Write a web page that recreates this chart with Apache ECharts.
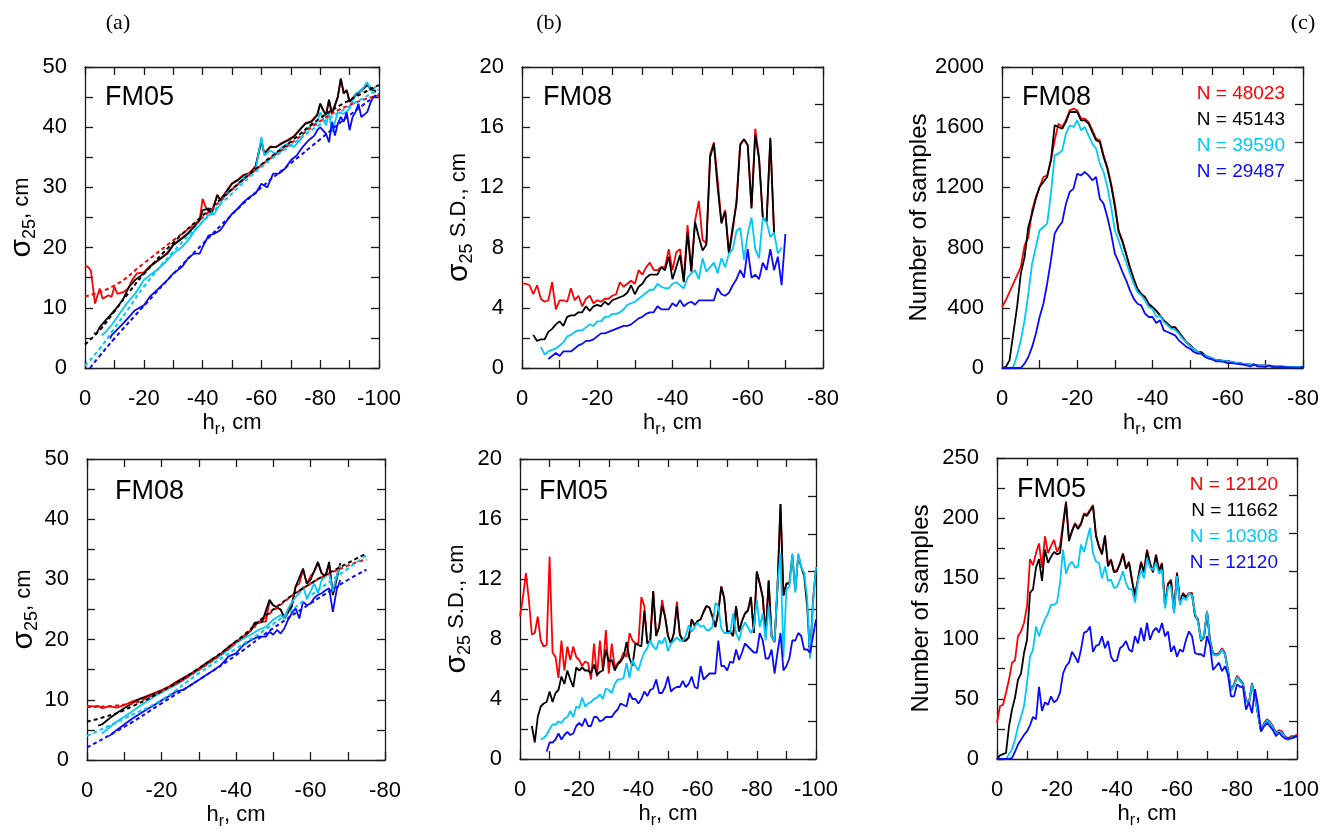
<!DOCTYPE html>
<html>
<head>
<meta charset="utf-8">
<title>sigma25 vs hr</title>
<script src="https://cdn.jsdelivr.net/npm/echarts@6/dist/echarts.min.js"></script>
<style>
html, body { margin: 0; padding: 0; background: #fff; }
#chart { width: 1339px; height: 835px; }
</style>
</head>
<body>
<div id="chart"></div>
<script>
// colours of the four sample subsets
var RED = '#ff0000', BLACK = '#000000', CYAN = '#00c8ff', BLUE = '#0a0aff';
var FONT = 'Liberation Sans';

// (a) top, FM05: [h_r, sigma25]
var aTopRed = [[0,17.0],[-1,16.8],[-2,16.2],[-3.4,10.7],[-5,13.2],[-6,11.5],[-8,12.1],[-9,11.8],[-10,13.5],[-11,12.3],[-13,12.6],[-14.7,13.2],[-16,14.6],[-17.6,15.7],[-20,15.9],[-22,16.9],[-25,18.0],[-28,19.1],[-30,20.5],[-33,21.6],[-35,22.4],[-37,23.5],[-39,24.6],[-40,28.1],[-41,26.8],[-42,26.0],[-43,25.6],[-45,28.8],[-46,27.9],[-48,29.3],[-50,30.7],[-52,31.3],[-54,32.1],[-56,32.4],[-58,33.5],[-59,35.6],[-60,37.6],[-61,35.6],[-63,36.8],[-65,36.7],[-67,37.4],[-69,37.9],[-71,38.5],[-73,39.6],[-75,40.7],[-77,41.0],[-79,42.1],[-80,43.9],[-81,42.9],[-82,42.1],[-83,44.6],[-84,42.3],[-86,45.1],[-87,48.0],[-88,45.7],[-89,46.2],[-90,44.3],[-92,45.4],[-94,46.2],[-96,47.0],[-98,46.2],[-99,46.0]];
var aTopBlack = [[-3,5.7],[-4,5.8],[-5,6.8],[-7,7.9],[-9,9.0],[-11,10.1],[-13,11.5],[-15,13.5],[-17,14.6],[-20,15.7],[-22,16.8],[-25,17.9],[-28,19.0],[-30,20.4],[-33,21.5],[-35,22.3],[-37,23.4],[-39,24.5],[-40,26.2],[-42,26.5],[-43,25.6],[-45,28.7],[-46,27.9],[-48,29.2],[-50,30.6],[-52,31.2],[-54,32.0],[-56,32.3],[-58,33.4],[-59,35.6],[-60,37.8],[-61,35.6],[-63,36.7],[-65,36.7],[-67,37.3],[-69,37.8],[-71,38.4],[-73,39.5],[-75,40.6],[-77,40.9],[-79,42.0],[-80,43.9],[-81,42.8],[-82,42.0],[-83,44.5],[-84,42.2],[-86,45.0],[-87,48.1],[-88,45.6],[-89,46.1],[-90,44.2],[-92,45.3],[-94,46.1],[-96,47.0],[-98,46.1],[-99,45.9]];
var aTopCyan = [[-5.7,5.4],[-7,6.0],[-9,7.1],[-11,8.5],[-13,9.9],[-15,11.2],[-17,12.3],[-20,14.6],[-22,15.4],[-25,16.5],[-28,17.9],[-30,19.0],[-33,20.1],[-35,21.2],[-37,22.6],[-40,24.3],[-42,25.4],[-44,25.6],[-46,27.3],[-48,29.0],[-50,29.8],[-52,30.6],[-54,31.7],[-56,32.3],[-58,32.8],[-59,35.6],[-60,38.4],[-61,35.3],[-63,36.1],[-65,35.6],[-67,36.7],[-69,37.3],[-71,36.7],[-73,37.8],[-75,39.5],[-77,40.3],[-79,40.9],[-80,42.5],[-82,40.3],[-83,42.5],[-84,39.2],[-86,42.5],[-88,42.2],[-90,43.1],[-92,45.6],[-94,46.1],[-96,47.5],[-97,46.1],[-99,46.7]];
var aTopBlue = [[-8.5,4.9],[-9,5.4],[-11,6.4],[-13,7.4],[-15,8.5],[-17,9.6],[-20,10.4],[-22,11.8],[-25,13.2],[-28,14.6],[-30,15.7],[-33,16.8],[-35,18.2],[-37,19.0],[-39,19.0],[-40,20.1],[-42,22.0],[-44,22.3],[-46,22.9],[-48,24.3],[-50,25.6],[-52,26.5],[-54,27.6],[-56,28.4],[-58,29.0],[-60,30.6],[-62,30.0],[-64,32.3],[-66,32.3],[-68,33.1],[-70,34.5],[-72,35.3],[-74,36.7],[-76,37.8],[-78,38.6],[-79,39.5],[-80,40.0],[-82,38.9],[-83,37.5],[-84,40.9],[-85,38.6],[-86,40.6],[-87,41.7],[-88,40.9],[-89,42.5],[-90,39.5],[-91,41.7],[-92,42.5],[-93,43.9],[-94,41.7],[-96,42.5],[-97,43.9],[-98,45.0],[-99,45.3]];
var aTopRedFit = [[0,11.9],[-10,13.7],[-20,17.4],[-30,21.2],[-40,25.0],[-50,29.6],[-60,33.7],[-70,37.3],[-80,41.0],[-90,43.7],[-100,45.3]];
var aTopBlackFit = [[0,3.9],[-5,6.3],[-10,9.4],[-15,12.6],[-20,15.6],[-30,20.8],[-40,25.3],[-50,29.7],[-60,33.8],[-70,37.6],[-80,41.5],[-90,44.5],[-100,47.0]];
var aTopCyanFit = [[0,0.4],[-5,3.2],[-10,6.6],[-15,10.0],[-20,13.5],[-30,19.3],[-40,24.3],[-50,29.0],[-60,33.4],[-70,37.0],[-80,40.5],[-90,43.5],[-100,46.3]];
var aTopBlueFit = [[-1.7,0],[-5,2.0],[-10,4.9],[-20,10.3],[-30,15.6],[-40,20.6],[-50,25.5],[-60,30.0],[-70,34.0],[-80,38.0],[-90,42.0],[-100,45.6]];

// (a) bottom, FM08: [h_r, sigma25]
var aBotRed = [[0,9.0],[-2,8.9],[-3,9.0],[-4,8.6],[-6,8.9],[-8,8.7],[-10,9.1],[-12,9.7],[-14,10.1],[-16,10.6],[-18,11.1],[-20,11.6],[-22,12.2],[-24,13.0],[-26,13.7],[-28,14.4],[-30,15.2],[-32,16.1],[-34,16.9],[-36,17.7],[-38,18.8],[-40,19.7],[-42,20.5],[-44,21.6],[-46,23.0],[-48,23.0],[-49,26.3],[-50,25.7],[-52,24.9],[-53,23.8],[-54,24.9],[-55,26.0],[-56,28.8],[-57,29.3],[-58,31.6],[-59,29.3],[-60,30.5],[-61,31.3],[-62,32.7],[-63,31.0],[-64,30.5],[-65,32.4],[-66,27.7],[-67,30.5],[-68,32.7]];
var aBotBlack = [[-3,5.7],[-4,5.9],[-6,6.9],[-8,7.8],[-10,8.6],[-12,9.4],[-14,10.1],[-16,10.5],[-18,11.0],[-20,11.5],[-22,12.1],[-24,12.9],[-26,13.6],[-28,14.3],[-30,15.1],[-32,16.0],[-34,16.8],[-36,17.6],[-38,18.7],[-40,19.6],[-42,20.4],[-44,21.5],[-45,22.8],[-47,22.9],[-49,26.6],[-50,25.7],[-52,25.0],[-53,23.5],[-55,25.5],[-56,28.8],[-58,31.8],[-59,29.3],[-60,29.9],[-62,32.9],[-63,31.0],[-64,30.5],[-65,32.9],[-66,27.4],[-67,29.9],[-68,32.7]];
var aBotCyan = [[-4,4.4],[-6,5.4],[-8,6.4],[-10,7.2],[-12,8.0],[-14,8.9],[-16,9.7],[-18,10.5],[-20,11.2],[-22,11.9],[-24,12.5],[-26,13.3],[-28,14.1],[-30,14.9],[-32,15.8],[-34,16.6],[-36,17.4],[-38,18.3],[-40,19.4],[-42,20.2],[-44,20.8],[-46,21.6],[-48,22.1],[-50,23.3],[-52,24.1],[-53,23.5],[-54,25.2],[-56,27.1],[-57,27.7],[-58,28.8],[-59,26.9],[-60,28.0],[-61,29.3],[-62,27.7],[-63,29.9],[-64,30.5],[-65,31.0],[-66,28.0],[-67,30.5],[-68,32.4]];
var aBotBlue = [[-6,4.0],[-8,5.0],[-10,5.9],[-12,6.8],[-14,7.6],[-16,8.4],[-18,9.1],[-20,9.9],[-22,10.6],[-24,11.4],[-26,11.7],[-28,12.5],[-30,13.3],[-32,14.1],[-34,14.9],[-36,15.8],[-38,17.2],[-40,17.7],[-42,19.1],[-44,19.9],[-46,20.5],[-48,20.5],[-49,21.3],[-50,20.8],[-51,21.6],[-52,21.0],[-53,21.9],[-54,23.3],[-55,24.4],[-56,25.2],[-57,23.5],[-58,26.3],[-59,25.7],[-60,26.0],[-61,26.9],[-62,27.4],[-63,27.7],[-64,28.2],[-65,28.5],[-66,24.6],[-67,28.2],[-68,29.9]];
var aBotRedFit = [[0,8.8],[-10,9.2],[-20,11.5],[-30,15.0],[-40,19.5],[-50,24.8],[-60,29.3],[-70,32.3],[-75,33.3]];
var aBotBlackFit = [[0,6.4],[-5,7.2],[-10,8.3],[-20,11.4],[-30,15.2],[-40,19.7],[-50,25.0],[-60,29.3],[-70,32.7],[-75,34.3]];
var aBotCyanFit = [[0,4.0],[-10,6.9],[-20,10.0],[-30,14.4],[-40,18.5],[-50,22.6],[-60,27.3],[-70,31.8],[-75,34.0]];
var aBotBlueFit = [[0,2.1],[-10,5.5],[-20,9.4],[-30,13.3],[-40,17.4],[-50,21.9],[-60,26.0],[-70,29.9],[-75,31.6]];

// (b) top, FM08: sigma25 S.D. at 1 cm steps, first value at the given h_r
var bTopRedStart = 0;
var bTopRed = [5.6,5.6,5.5,4.9,5.5,4.6,4.4,4.5,5.7,3.9, 4.5,4.5,4.4,5.3,4.5,4.8,4.1,4.6,4.8,4.3, 4.5,4.4,4.6,4.6,4.8,4.9,5.7,5.4,5.6,5.8, 5.6,6.5,6.2,6.7,7.0,6.5,6.5,6.7,6.7,7.9, 6.5,7.7,7.9,5.8,9.5,6.5,9.8,11.1,8.5,8.3, 14.2,15.0,12.5,9.7,10.5,7.6,9.1,11.1,14.9,15.2, 14.8,10.7,15.9,14.0,10.0,9.7,15.2,9.0];
var bTopBlackStart = -3;
var bTopBlack = [2.2,1.8,1.9,1.9,2.4,2.6,2.9,3.1,2.8,3.4, 3.5,3.5,3.7,3.7,4.1,3.8,4.1,4.2,4.1,4.4, 4.2,4.5,4.6,4.7,4.8,5.0,5.5,4.9,5.4,5.6, 6.0,6.2,6.2,6.2,6.7,6.5,7.4,5.9,6.7,7.5, 5.7,9.0,6.4,9.7,8.7,7.8,8.2,14.0,14.9,12.0, 9.6,10.4,7.6,9.4,10.9,14.8,15.2,14.8,10.6,15.5, 13.9,10.0,9.7,15.3,8.9];
var bTopCyanStart = -5;
var bTopCyan = [1.4,0.9,1.1,1.2,1.3,1.5,1.7,2.1,2.2,2.4, 2.5,2.5,2.7,2.9,2.8,3.1,3.1,3.4,3.4,3.6, 3.6,3.7,3.9,4.2,4.3,4.4,4.6,4.8,5.0,5.2, 5.2,5.6,5.4,5.3,5.3,5.6,5.7,5.5,5.3,6.0, 6.3,6.5,5.9,7.3,6.4,6.7,7.0,6.3,7.3,6.7, 7.6,7.9,9.1,9.3,7.2,8.9,10.0,7.9,7.3,10.0, 9.7,8.7,9.0,7.6,8.0];
var bTopBlueStart = -7;
var bTopBlue = [0.6,0.8,1.0,0.8,1.1,1.1,1.1,1.3,1.5,1.6, 1.8,1.8,1.9,2.1,2.3,2.3,2.4,2.5,2.6,2.7, 2.8,2.8,2.9,3.1,3.3,3.4,3.6,3.7,3.7,4.1, 3.9,3.9,3.9,4.3,4.1,4.5,4.1,4.3,4.4,4.2, 4.5,4.5,4.5,4.5,4.5,5.3,4.9,4.8,5.0,5.5, 5.9,6.5,6.0,7.9,6.0,6.2,5.9,7.0,6.5,7.9, 6.5,7.4,5.5,8.9];

// (b) bottom, FM05: sigma25 S.D.
var bBotRedStart = 0;
var bBotRed = [9.5,10.8,12.4,10.6,8.3,8.4,9.5,7.9,7.5,7.6, 13.5,7.1,6.8,5.4,7.9,5.9,7.5,6.6,7.5,6.8, 6.6,6.2,6.5,6.4,5.3,7.7,5.5,7.9,5.9,8.6, 5.7,7.7,6.1,6.4,6.6,7.1,6.8,8.4,7.9,7.7, 7.7,10.8,10.2,7.7,7.9,11.2,8.2,8.8,10.6,9.5, 8.2,7.7,8.4,10.5,8.3,7.9,7.9,8.1,9.3,8.9, 9.2,9.3,9.8,10.2,10.1,9.5,8.8,9.8,11.5,10.7, 8.5,8.5,8.2,10.2,8.5,9.2,9.7,9.9,10.8,8.4, 12.5,11.7,10.8,8.2,11.9,8.2,7.8,11.5,17.0,10.9, 11.7,11.7];
var bBotBlackStart = -4;
var bBotBlack = [2.2,1.1,2.8,3.5,3.7,3.8,4.5,3.8,4.4,4.6, 5.5,5.0,5.9,5.3,4.8,6.1,5.9,6.1,5.9,5.9, 5.7,6.3,5.6,5.8,5.9,7.3,6.5,6.6,5.9,6.3, 6.5,6.8,7.8,6.7,6.2,7.7,7.6,7.5,9.9,7.7, 7.9,11.2,8.2,8.8,10.2,9.5,8.2,7.7,8.4,10.2, 8.3,7.9,7.9,8.1,9.3,8.9,9.2,9.3,9.8,10.2, 10.1,9.5,8.8,9.8,11.5,10.7,8.5,8.5,8.2,10.2, 8.5,9.2,9.7,9.9,10.8,8.4,12.5,11.7,10.8,8.2, 11.9,8.2,7.8,11.5,17.0,10.9,11.7,11.7,13.6,11.2, 13.6,12.8,12.2,10.2,6.8,10.6,12.7];
var bBotCyanStart = -7;
var bBotCyan = [1.3,1.4,1.6,2.0,2.3,2.3,2.5,2.4,2.7,2.8, 3.2,2.8,3.5,3.4,4.1,3.5,3.7,3.8,4.0,4.1, 4.3,4.0,4.7,4.6,4.4,5.0,5.3,5.3,5.4,6.4, 5.4,6.6,6.2,5.9,6.6,7.1,7.4,7.9,7.5,7.3, 7.9,7.7,8.1,7.2,7.7,7.9,8.1,7.9,7.9,8.2, 8.9,8.5,8.8,9.1,8.8,8.9,8.6,8.6,8.8,10.4, 10.2,8.7,8.4,8.4,8.4,9.7,8.4,7.9,8.7,9.1, 8.8,8.4,8.8,10.6,8.8,9.7,7.9,10.2,8.2,7.8, 11.7,13.7,6.8,11.3,11.5,13.7,11.1,13.7,12.8,12.4, 10.8,6.7,10.4,12.8];
var bBotBlueStart = -9;
var bBotBlue = [0.5,1.1,1.1,1.3,1.7,1.3,1.6,1.8,1.6,1.7, 2.2,2.4,2.2,2.7,2.2,2.2,2.8,2.8,2.5,2.6, 2.8,2.8,2.8,3.1,3.3,3.7,3.6,3.5,4.4,4.0, 4.0,3.7,4.0,4.5,4.2,4.6,4.7,5.3,4.4,4.4, 4.8,5.5,4.5,4.7,4.8,4.8,5.2,4.8,5.0,5.5, 4.8,4.7,6.2,5.3,5.5,5.7,5.7,5.7,7.9,6.2, 6.2,5.9,6.5,6.4,7.3,6.6,7.1,7.7,7.5,7.3, 7.1,7.1,8.4,7.9,6.7,6.7,7.3,5.7,7.1,8.4, 5.9,6.2,6.7,7.9,7.9,8.4,8.2,7.3,7.3,7.1, 8.2,9.3];

// (c) top, FM08: number of samples per 1 cm bin, from h_r = 0
var cTopRed = [405,450,505,560,615,670,815,870,1048,1136, 1203,1269,1280,1380,1513,1624,1601,1646,1712,1723, 1712,1657,1657,1635,1580,1524,1513,1413,1336,1225, 1092,915,848,760,671,594,527,494,472,427, 405,383,350,317,295,272,272,239,206,173, 151,128,106,106,84,73,62,51,51,47, 47,40,35,33,29,27,24,22,18,17, 16,14,11,10,10,9,8,8,7,7, 7];
var cTopBlack = [0,7,51,228,405,627,737,937,1025,1125, 1203,1236,1269,1380,1613,1601,1590,1635,1701,1701, 1701,1646,1646,1624,1568,1513,1502,1402,1325,1214, 1070,904,840,755,666,590,524,490,470,425, 402,380,348,315,293,270,270,237,204,171, 150,127,105,104,83,72,61,50,50,46, 46,39,34,32,28,26,23,21,17,16, 15,13,10,9,9,8,7,7,6,6, 6];
var cTopCyan = [0,0,0,7,84,184,317,494,693,804, 915,937,959,1158,1413,1424,1446,1557,1613,1601, 1646,1580,1601,1546,1491,1458,1358,1302,1203,1070, 915,848,771,704,627,560,505,483,450,405, 394,339,350,306,284,261,255,228,195,173, 144,128,106,95,84,73,62,51,51,47, 45,40,35,32,29,27,24,22,18,17, 16,14,11,10,10,9,8,8,7,7, 7];
var cTopBlue = [0,0,0,0,0,0,29,73,140,228, 339,427,560,715,893,937,970,1092,1170,1192, 1291,1280,1302,1280,1247,1269,1125,1092,1003,893, 760,704,638,583,516,461,427,416,361,339, 339,299,317,250,239,228,217,184,162,140, 128,106,95,95,73,62,55,44,44,40, 33,33,29,26,22,18,11,24,11,9, 7,18,7,6,5,5,4,4,2,3, 7];

// (c) bottom, FM05: number of samples per 1 cm bin, from h_r = 0
var cBotRed = [30,44,45,55,66,80,82,102,106,113, 127,166,161,171,179,159,185,171,177,182, 172,177,196,214,182,190,196,192,196,204, 203,207,211,186,177,171,186,161,166,156, 157,163,171,159,164,149,136,150,164,156, 174,163,156,170,157,163,128,146,149,123, 155,130,138,135,138,138,120,116,99,102, 123,99,88,87,88,92,88,74,58,62, 69,66,63,49,47,63,52,38,24,30, 33,31,27,22,24,23,19,17,19,19, 20];
var cBotBlack = [0,3,4,5,27,41,51,66,71,88, 99,138,141,159,166,148,174,163,168,172, 170,171,193,213,181,189,195,191,195,203, 202,206,210,185,176,170,185,160,165,155, 156,162,170,158,163,148,135,149,163,155, 173,162,155,169,156,162,127,145,148,122, 154,129,137,134,137,137,119,115,98,101, 122,98,87,86,87,91,87,73,57,61, 68,65,62,48,46,62,51,37,23,29, 32,30,26,21,23,22,18,16,18,18, 19];
var cBotCyan = [0,0,0,0,4,8,16,27,35,44, 63,85,91,110,102,110,116,121,128,128, 130,146,174,154,161,164,159,160,178,172, 182,192,171,164,163,150,160,148,149,142, 143,149,156,146,141,141,130,148,157,150, 167,159,157,163,154,157,125,143,143,121, 152,128,135,132,138,136,121,114,99,102, 123,98,87,86,87,91,87,73,57,61, 68,65,62,48,46,62,51,37,23,29, 32,30,26,21,23,22,18,16,18,18, 19];
var cBotBlue = [0,0,0,0,0,1,6,12,16,20, 23,28,35,33,60,40,47,45,52,47, 49,55,71,77,80,89,85,80,91,105, 106,110,89,94,95,102,92,98,85,81, 82,92,94,98,91,89,102,96,109,98, 113,99,106,109,105,113,102,106,89,94, 85,91,89,99,106,102,88,87,87,85, 102,94,74,77,80,73,77,70,52,52, 62,60,60,41,47,38,58,44,23,27, 30,27,24,19,22,19,17,17,17,18, 19];

// per-panel text
var panelTags = ['FM05', 'FM08', 'FM08', 'FM08', 'FM05', 'FM05'];
var topCounts = ['N = 48023', 'N = 45143', 'N = 39590', 'N = 29487'];
var botCounts = ['N = 12120', 'N = 11662', 'N = 10308', 'N = 12120'];
var colors4 = [RED, BLACK, CYAN, BLUE];

function seq(x0, ys) {
  return ys.map(function (y, i) { return [x0 - i, y]; });
}

// panel order: a-top, b-top, c-top, a-bottom, b-bottom, c-bottom
var grids = [
  { left: 85,  top: 67,  width: 294, height: 301 },
  { left: 522, top: 67,  width: 301, height: 301 },
  { left: 1002, top: 67, width: 301, height: 301 },
  { left: 87,  top: 459, width: 298, height: 301 },
  { left: 520, top: 459, width: 296, height: 300 },
  { left: 997, top: 458, width: 300, height: 301 }
];
// x range, bottom tick step, top tick step
var xCfg = [[-100, 10, 10], [-80, 10, 8], [-80, 10, 8], [-80, 10, 10], [-100, 10, 10], [-100, 10, 10]];
// y max, left tick step, label step, right tick step, name kind
var yCfg = [[50, 5, 10, 5, 's'], [20, 2, 4, 2.5, 'sd'], [2000, 200, 400, 250, 'n'],
            [50, 5, 10, 5, 's'], [20, 2, 4, 2.5, 'sd'], [250, 25, 50, 31.25, 'n']];

var lineCol = '#1a1a1a';
var xAxes = [], yAxes = [];
var xName = '{m|h}{s|r}{m|, cm}';
var xRich = {
  m: { fontSize: 22, fontFamily: FONT, color: '#000', lineHeight: 30, verticalAlign: 'middle' },
  s: { fontSize: 16, fontFamily: FONT, color: '#000', lineHeight: 16, verticalAlign: 'bottom' }
};
var yRich = {
  g: { fontSize: 30, fontFamily: FONT, color: '#000', lineHeight: 34, verticalAlign: 'middle' },
  m: { fontSize: 22, fontFamily: FONT, color: '#000', lineHeight: 34, verticalAlign: 'middle' },
  s: { fontSize: 18, fontFamily: FONT, color: '#000', lineHeight: 18, verticalAlign: 'bottom' }
};
var yNames = {
  s: '{g|σ}{s|25}{m|, cm}',
  sd: '{g|σ}{s|25}{m| S.D., cm}',
  n: 'Number of samples'
};

grids.forEach(function (g, p) {
  var xc = xCfg[p], yc = yCfg[p];
  var common = { lineStyle: { color: lineCol, width: 1.3 } };
  xAxes.push({
    type: 'value', gridIndex: p, min: xc[0], max: 0, inverse: true, interval: xc[1],
    axisLine: { show: true, onZero: false, lineStyle: common.lineStyle },
    axisTick: { show: true, inside: true, length: 8, lineStyle: common.lineStyle },
    axisLabel: { margin: 20, fontSize: 22, fontFamily: FONT, color: '#000',
      formatter: function (v) { return v % 20 === 0 ? String(v) : ''; } },
    splitLine: { show: false },
    name: xName, nameLocation: 'middle', nameGap: 40,
    nameTextStyle: { rich: xRich }
  });
  xAxes.push({
    type: 'value', gridIndex: p, position: 'top', min: xc[0], max: 0, inverse: true, interval: xc[2],
    axisLine: { show: true, onZero: false, lineStyle: common.lineStyle },
    axisTick: { show: true, inside: true, length: 8, lineStyle: common.lineStyle },
    axisLabel: { show: false }, splitLine: { show: false }
  });
  var labStep = yc[2];
  yAxes.push({
    type: 'value', gridIndex: p, min: 0, max: yc[0], interval: yc[1],
    axisLine: { show: true, onZero: false, lineStyle: common.lineStyle },
    axisTick: { show: true, inside: true, length: 8, lineStyle: common.lineStyle },
    axisLabel: { margin: 18, fontSize: 22, fontFamily: FONT, color: '#000',
      formatter: function (v) { return Math.abs(v % labStep) < 1e-9 ? String(v) : ''; } },
    splitLine: { show: false },
    name: yNames[yc[4]], nameLocation: 'middle', nameGap: yc[4] === 'n' ? 64 : 44,
    nameTextStyle: yc[4] === 'n' ? { fontSize: 24, fontFamily: FONT, color: '#000' } : { rich: yRich }
  });
  yAxes.push({
    type: 'value', gridIndex: p, position: 'right', min: 0, max: yc[0], interval: yc[3],
    axisLine: { show: true, onZero: false, lineStyle: common.lineStyle },
    axisTick: { show: true, inside: true, length: 8, lineStyle: common.lineStyle },
    axisLabel: { show: false }, splitLine: { show: false }
  });
});

var series = [];
function solid(p, data, color) {
  series.push({ type: 'line', xAxisIndex: 2 * p, yAxisIndex: 2 * p, data: data,
    symbol: 'none', lineStyle: { color: color, width: 1.8 }, itemStyle: { color: color },
    animation: false, silent: true });
}
function dashed(p, data, color) {
  series.push({ type: 'line', xAxisIndex: 2 * p, yAxisIndex: 2 * p, data: data, smooth: true,
    symbol: 'none', lineStyle: { color: color, width: 2, type: [4, 3] }, itemStyle: { color: color },
    animation: false, silent: true, z: 3 });
}

solid(0, aTopRed, RED); solid(0, aTopBlack, BLACK); solid(0, aTopCyan, CYAN); solid(0, aTopBlue, BLUE);
dashed(0, aTopRedFit, RED); dashed(0, aTopBlackFit, BLACK); dashed(0, aTopCyanFit, CYAN); dashed(0, aTopBlueFit, BLUE);

solid(1, seq(bTopRedStart, bTopRed), RED); solid(1, seq(bTopBlackStart, bTopBlack), BLACK);
solid(1, seq(bTopCyanStart, bTopCyan), CYAN); solid(1, seq(bTopBlueStart, bTopBlue), BLUE);

solid(2, seq(0, cTopRed), RED); solid(2, seq(0, cTopBlack), BLACK);
solid(2, seq(0, cTopCyan), CYAN); solid(2, seq(0, cTopBlue), BLUE);

solid(3, aBotRed, RED); solid(3, aBotBlack, BLACK); solid(3, aBotCyan, CYAN); solid(3, aBotBlue, BLUE);
dashed(3, aBotRedFit, RED); dashed(3, aBotBlackFit, BLACK); dashed(3, aBotCyanFit, CYAN); dashed(3, aBotBlueFit, BLUE);

solid(4, seq(bBotRedStart, bBotRed), RED); solid(4, seq(bBotBlackStart, bBotBlack), BLACK);
solid(4, seq(bBotCyanStart, bBotCyan), CYAN); solid(4, seq(bBotBlueStart, bBotBlue), BLUE);

solid(5, seq(0, cBotRed), RED); solid(5, seq(0, cBotBlack), BLACK);
solid(5, seq(0, cBotCyan), CYAN); solid(5, seq(0, cBotBlue), BLUE);

// annotations
var tagPos = [[105, 98], [543, 98], [1022, 98], [115, 492], [539, 492], [1017, 490]];
var graphic = [];
tagPos.forEach(function (t, i) {
  graphic.push({ type: 'text', x: t[0], y: t[1], silent: true,
    style: { text: panelTags[i], font: '27px "Liberation Sans"', fill: '#000', verticalAlign: 'middle' } });
});
[['(a)', 118], ['(b)', 549], ['(c)', 1303]].forEach(function (l) {
  graphic.push({ type: 'text', x: l[1], y: 23, silent: true,
    style: { text: l[0], font: '22px "Liberation Serif"', fill: '#000', align: 'center', verticalAlign: 'middle' } });
});
topCounts.forEach(function (s, i) {
  graphic.push({ type: 'text', x: 1285, y: 94 + 26 * i, silent: true,
    style: { text: s, font: '19px "Liberation Sans"', fill: colors4[i], align: 'right', verticalAlign: 'middle' } });
});
botCounts.forEach(function (s, i) {
  graphic.push({ type: 'text', x: 1278, y: 485 + 26 * i, silent: true,
    style: { text: s, font: '19px "Liberation Sans"', fill: colors4[i], align: 'right', verticalAlign: 'middle' } });
});

var chart = echarts.init(document.getElementById('chart'), null, { renderer: 'canvas' });
chart.setOption({
  backgroundColor: '#ffffff',
  animation: false,
  grid: grids,
  xAxis: xAxes,
  yAxis: yAxes,
  series: series,
  graphic: graphic
});
</script>
</body>
</html>
